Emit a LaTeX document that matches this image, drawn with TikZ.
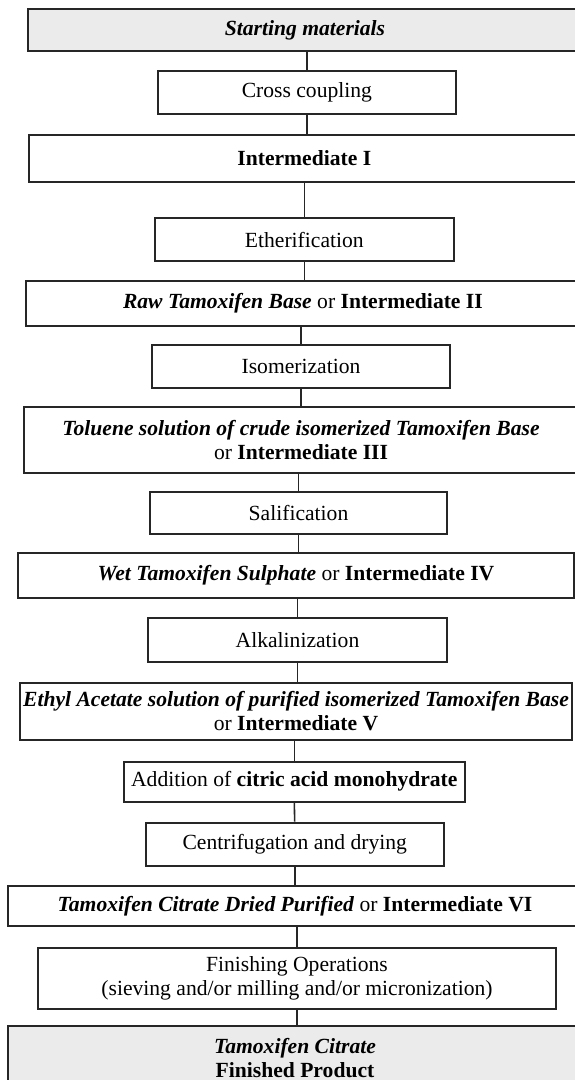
\documentclass[tikz,border=0pt]{standalone}
\usepackage{fontspec}
\setmainfont{Liberation Serif}
\begin{document}
\begin{tikzpicture}[x=1pt,y=-1pt,
  box/.style={draw=black!85, line width=2pt, fill=white, inner sep=0pt, align=center,
    font=\fontsize{21.6}{24}\selectfont},
  greybox/.style={box, fill=black!8},
  link/.style={draw=black!85, line width=1.6pt}]
\useasboundingbox (0,0) rectangle (575,1080);
\clip (0,0) rectangle (575,1080);
\fill[white] (0,0) rectangle (575,1080);

\node[greybox, minimum width=555pt, minimum height=42pt] (start) at (305,30) {\textbf{\textit{Starting materials}}};
\node[box, minimum width=298pt, minimum height=43.6pt] (cross) at (306.9,92.5) {Cross coupling};
\node[box, minimum width=551pt, minimum height=47pt] (int1) at (304.3,158.2) {\textbf{Intermediate I}};
\node[box, minimum width=298.6pt, minimum height=42.4pt] (ether) at (304.3,239.5) {Etherification};
\node[box, minimum width=554pt, minimum height=45pt] (raw) at (302.9,303.2) {\textbf{\textit{Raw Tamoxifen Base}} or \textbf{Intermediate II}};
\node[box, minimum width=298pt, minimum height=43.3pt] (iso) at (301,366.7) {Isomerization};
\node[box, minimum width=554pt, minimum height=65.4pt] (tol) at (301,440) {\textbf{\textit{Toluene solution of crude isomerized Tamoxifen Base}}\\or \textbf{Intermediate III}};
\node[box, minimum width=297pt, minimum height=42.6pt] (sal) at (298.5,513) {Salification};
\node[box, minimum width=556pt, minimum height=44.4pt] (wet) at (296,575.5) {\textbf{\textit{Wet Tamoxifen Sulphate}} or \textbf{Intermediate IV}};
\node[box, minimum width=298.3pt, minimum height=44pt] (alk) at (297.5,640.3) {Alkalinization};
\node[box, minimum width=552pt, minimum height=57.3pt] (eth) at (296,711.3) {\textbf{\textit{Ethyl Acetate solution of purified isomerized Tamoxifen Base}}\\or \textbf{Intermediate V}};
\node[box, minimum width=341.4pt, minimum height=40pt] (add) at (294.3,781.7) {Addition of \textbf{citric acid monohydrate}};
\node[box, minimum width=298pt, minimum height=43pt] (cen) at (294.7,844.2) {Centrifugation and drying};
\node[box, minimum width=574pt, minimum height=40pt] (dried) at (295,905.7) {\textbf{\textit{Tamoxifen Citrate Dried Purified}} or \textbf{Intermediate VI}};
\node[box, minimum width=518pt, minimum height=61pt] (fin) at (297,978.8) {Finishing Operations\\(sieving and/or milling and/or micronization)};
\node[greybox, minimum width=574pt, minimum height=64pt] (final) at (295,1058) {\textbf{\textit{Tamoxifen Citrate}}\\\textbf{Finished Product}};

% wide box above, narrow box below: vertical at the narrow box's x
\foreach \a/\b in {start/cross, int1/ether, raw/iso, tol/sal, wet/alk, eth/add, dried/fin}
  \draw[link] (\b.north) -- (\b.north |- \a.south);
% narrow box above, wide box below: vertical at the narrow box's x
\foreach \a/\b in {cross/int1, ether/raw, iso/tol, sal/wet, alk/eth, cen/dried, fin/final}
  \draw[link] (\a.south) -- (\a.south |- \b.north);
\draw[link] (add.south) -- (cen.north);
\end{tikzpicture}
\end{document}
